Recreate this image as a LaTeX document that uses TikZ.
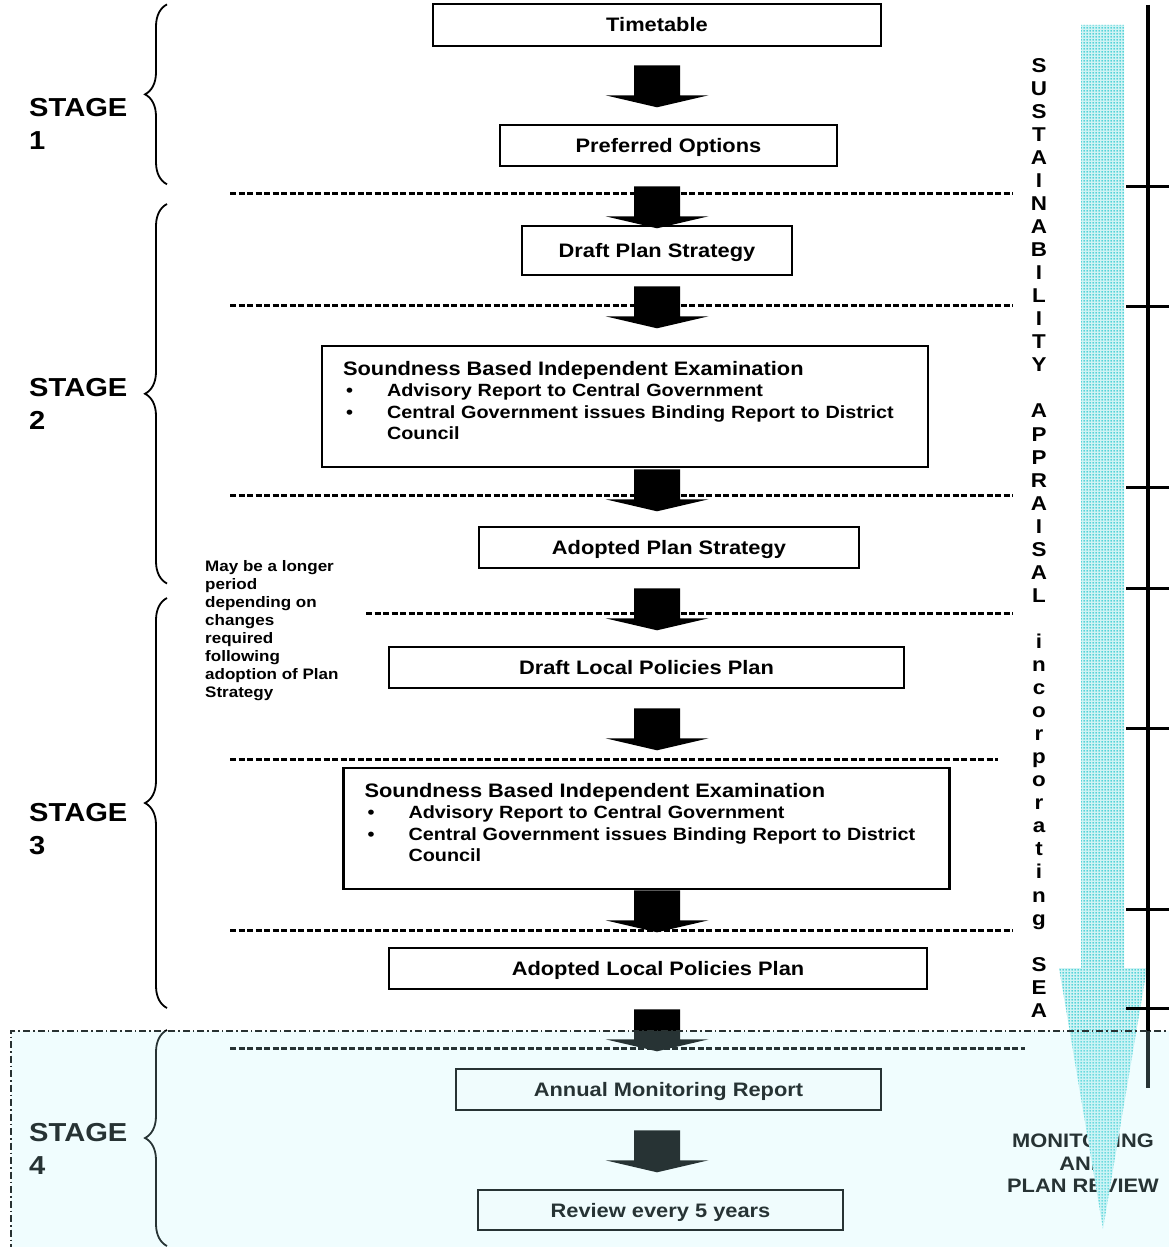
\documentclass[tikz,border=0pt]{standalone}
\usepackage{fontspec}
\setmainfont{Liberation Sans}[FakeStretch=1.12]
\usetikzlibrary{decorations.pathreplacing,patterns}

\definecolor{seacyan}{RGB}{40,200,206}
\definecolor{veilcyan}{RGB}{185,245,250}
\definecolor{veilline}{RGB}{40,50,50}

% dotted fill of the appraisal arrow
\pgfdeclarepatternformonly{seadots}{\pgfqpoint{0pt}{0pt}}{\pgfqpoint{3pt}{3pt}}{\pgfqpoint{3pt}{3pt}}{%
  \pgfpathcircle{\pgfqpoint{1.5pt}{1.5pt}}{1.05pt}\pgfusepath{fill}}

% block arrow hanging under a box: #1 box above, #2 gap below it
\newcommand{\flowarrow}[2]{%
  \fill (col |- #1.south) ++(-23,#2) -- ++(46,0) -- ++(0,30) -- ++(28.5,0)
    -- ++(-51.5,12) -- ++(-51.5,-12) -- ++(28.5,0) -- cycle;}
\newcommand{\exambullet}{\hspace*{3pt}\makebox[41pt][l]{\textbullet}}

\begin{document}
\begin{tikzpicture}[x=1pt, y=-1pt,
    stagebox/.style={draw, line width=2.6pt, fill=white, inner sep=0pt,
      text height=14pt, text depth=0pt, font=\fontsize{19.5}{22}\selectfont\bfseries},
    exambox/.style={draw, line width=2.6pt, fill=white, inner xsep=21pt, inner ysep=0pt,
      align=left, text width=564pt, minimum width=606pt, minimum height=121pt,
      font=\fontsize{17.7}{21.6}\selectfont\bfseries},
    stageline/.style={line width=3pt, dash pattern=on 6pt off 2.5pt},
    stagebrace/.style={decorate, decoration={brace, amplitude=22pt}, line width=1.8pt},
    stagelabel/.style={anchor=north west, align=left, inner sep=0pt,
      font=\fontsize{26}{33}\selectfont\bfseries},
    sealetter/.style={anchor=base, inner sep=0pt, font=\fontsize{20}{20}\selectfont\bfseries}]
  \useasboundingbox (0,0) rectangle (1168,1247);
  \coordinate (col) at (657,0);

  % stage separators
  \foreach \y/\xa/\xb in {193/230/1013, 305/230/1013, 495/230/1013, 613/366/1013,
                          759/230/998, 930/230/1013, 1048/230/1025}
    \draw[stageline] (\xa,\y) -- (\xb,\y);

  % boxes
  \node[stagebox, minimum width=448pt, minimum height=42pt] (tt) at (657,25) {Timetable};
  \node[stagebox, minimum width=337pt, minimum height=41pt] (po) at (668.5,145.5) {Preferred Options};
  \node[stagebox, minimum width=270pt, minimum height=49pt] (dps) at (657,250.5) {Draft Plan Strategy};
  \node[exambox] (sx1) at (625,406.5) {{\fontsize{19.5}{21.6}\selectfont Soundness Based Independent Examination}\\
    \exambullet Advisory Report to Central Government\\
    \exambullet Central Government issues Binding Report to District\\
    \hspace*{44pt}Council\rule[-12pt]{0pt}{12pt}};
  \node[stagebox, minimum width=380pt, minimum height=41pt] (aps) at (669,547.5) {Adopted Plan Strategy};
  \node[stagebox, minimum width=515pt, minimum height=41pt] (dlp) at (646.5,667.5) {Draft Local Policies Plan};
  \node[exambox, minimum width=603pt] (sx2) at (646.5,828.5) {{\fontsize{19.5}{21.6}\selectfont Soundness Based Independent Examination}\\
    \exambullet Advisory Report to Central Government\\
    \exambullet Central Government issues Binding Report to District\\
    \hspace*{44pt}Council\rule[-12pt]{0pt}{12pt}};
  \node[stagebox, minimum width=538pt, minimum height=41pt] (alp) at (658,968.5) {Adopted Local Policies Plan};
  \node[stagebox, minimum width=425pt, minimum height=41pt] (amr) at (668.5,1089.5) {Annual Monitoring Report};
  \node[stagebox, minimum width=365pt, minimum height=40pt] (rev) at (660.5,1210) {Review every 5 years};

  % arrows between boxes
  \foreach \b/\g in {tt/18, po/19, dps/10, sx1/1, aps/19, dlp/19, sx2/0, alp/19, amr/19}
    {\flowarrow{\b}{\g}}

  % stages
  \draw[stagebrace] (167,184.3) -- (167,4.4);
  \draw[stagebrace] (167,583.5) -- (167,204);
  \draw[stagebrace] (167,1008) -- (167,598);
  \draw[stagebrace] (167,1246) -- (167,1030);
  \node[stagelabel] (s1) at (29,98.5) {STAGE\\1};
  \node[stagelabel] (s2) at (29,378.5) {STAGE\\2};
  \node[stagelabel] (s3) at (29,803.5) {STAGE\\3};
  \node[stagelabel] (s4) at (29,1123.5) {STAGE\\4};
  \node[anchor=north west, align=left, inner sep=0pt, font=\fontsize{15.2}{18}\selectfont\bfseries]
    (lag) at (205,560) {May be a longer\\period\\depending on\\changes\\required\\following\\adoption of Plan\\Strategy};

  % sustainability appraisal
  \foreach \ch [count=\i from 0] in {S,U,S,T,A,I,N,A,B,I,L,I,T,Y,{},A,P,P,R,A,I,S,A,L,{},
                                     i,n,c,o,r,p,o,r,a,t,i,n,g,{},S,E,A}
    \node[sealetter] (sa\i) at (1039,{72.2+23.05*\i}) {\ch};
  \node[align=center, inner sep=0pt, font=\fontsize{19.5}{22.5}\selectfont\bfseries]
    (mon) at (1083,1163.5) {MONITORING\\AND\\PLAN REVIEW};
  \path[fill=seacyan!22!white, postaction={pattern=seadots, pattern color=seacyan}]
    (1081,25) -- (1124,25) -- (1124,968) -- (1147,968) -- (1103,1229) -- (1059,968) -- (1081,968) -- cycle;
  \draw[line width=3.3pt] (1148,5) -- (1148,1088);
  \foreach \t in {186, 306, 487, 588, 728, 909, 1008}
    \draw[line width=3pt] (1126,\t) -- (1170,\t);

  % stage 4 panel
  \fill[veilcyan, fill opacity=0.21] (11,1031) rectangle (1190,1260);
  \draw[veilline, line width=1.2pt, dash pattern=on 7pt off 3pt on 1.5pt off 3pt]
    (1190,1031) -- (11,1031) -- (11,1260);
\end{tikzpicture}
\end{document}
